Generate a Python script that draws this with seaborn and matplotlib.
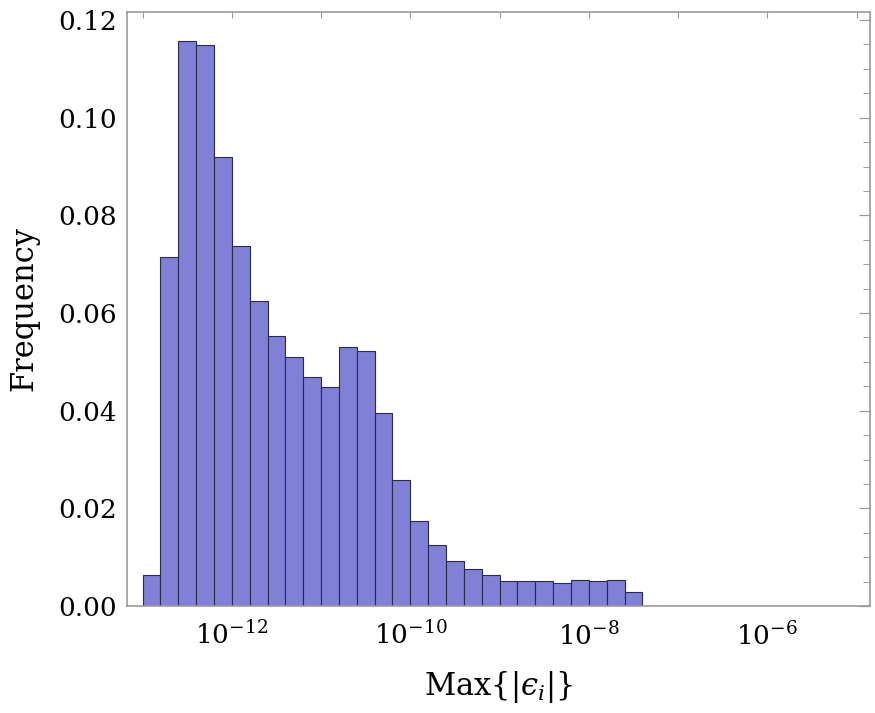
import matplotlib
matplotlib.use("Agg")
import matplotlib.pyplot as plt
import matplotlib.ticker as mticker
import numpy as np
import pandas as pd
import seaborn as sns

sns.set_style("white")
plt.rcParams["font.family"] = ["DejaVu Serif"]
plt.rcParams["mathtext.fontset"] = "dejavuserif"
plt.rcParams["text.color"] = "black"
plt.rcParams["axes.labelcolor"] = "black"

# bin centres, as log10 of Max{|eps_i|}; bins are 0.2 decades wide from 1e-13
bin_centers = [
    -12.9, -12.7, -12.5, -12.3, -12.1, -11.9, -11.7, -11.5, -11.3, -11.1,
    -10.9, -10.7, -10.5, -10.3, -10.1, -9.9, -9.7, -9.5, -9.3, -9.1,
    -8.9, -8.7, -8.5, -8.3, -8.1, -7.9, -7.7, -7.5,
]
frequency = [
    0.0063, 0.0714, 0.1157, 0.1148, 0.0920, 0.0738, 0.0624, 0.0553, 0.0510, 0.0470,
    0.0448, 0.0530, 0.0523, 0.0395, 0.0259, 0.0175, 0.0124, 0.0092, 0.0075, 0.0063,
    0.0052, 0.0051, 0.0052, 0.0048, 0.0054, 0.0052, 0.0054, 0.0029,
]
x_tick_exponents = [-12, -10, -8, -6]

df = pd.DataFrame({
    "max_eps": np.power(10.0, bin_centers),
    "frequency": frequency,
})

fig = plt.figure(figsize=(8.75, 7.13), dpi=100)
ax = fig.add_axes([0.145, 0.150, 0.849, 0.8336])

sns.histplot(
    data=df,
    x="max_eps",
    weights="frequency",
    bins=28,
    binrange=(-13, -7.4),
    log_scale=True,
    stat="count",
    color="#8080d6",
    alpha=1.0,
    edgecolor="#2a2a4a",
    linewidth=0.8,
    ax=ax,
)

ax.set_xlim(10 ** -13.176, 10 ** -4.852)
ax.set_ylim(0, 0.1217)

# x: a tick every decade, label every second one
ax.xaxis.set_major_locator(mticker.FixedLocator(10.0 ** np.arange(-13, -4)))
ax.xaxis.set_major_formatter(mticker.FuncFormatter(
    lambda v, pos: f"$10^{{{int(round(np.log10(v)))}}}$"
    if int(round(np.log10(v))) in x_tick_exponents else ""
))
ax.xaxis.set_minor_locator(mticker.NullLocator())

ax.yaxis.set_major_locator(mticker.MultipleLocator(0.02))
ax.yaxis.set_minor_locator(mticker.MultipleLocator(0.005))
ax.yaxis.set_major_formatter(mticker.FormatStrFormatter("%.2f"))

for side in ["left", "right", "top", "bottom"]:
    ax.spines[side].set_visible(True)
    ax.spines[side].set_color("#9a9a9a")
    ax.spines[side].set_linewidth(1.2)

ax.tick_params(axis="both", which="both", direction="in", color="#9a9a9a",
               top=True, right=True, labelsize=19, labelcolor="black")
ax.tick_params(axis="x", which="major", length=4, width=0.8, pad=11)
ax.tick_params(axis="y", which="major", length=8, width=0.9, pad=7)
ax.tick_params(axis="y", which="minor", length=5, width=0.7)

ax.set_xlabel("Max$\\{|ϵ_i|\\}$", fontsize=22, labelpad=14)
ax.set_ylabel("Frequency", fontsize=22, labelpad=14)

fig.savefig("out.png", dpi=100)
